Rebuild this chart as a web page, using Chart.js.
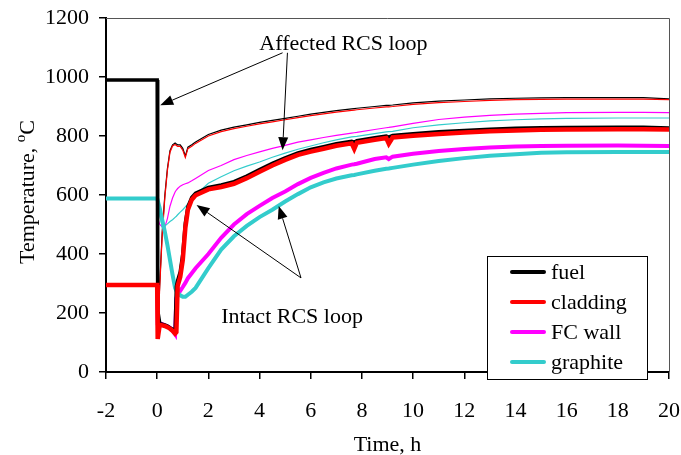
<!DOCTYPE html>
<html>
<head>
<meta charset="utf-8">
<script src="https://cdn.jsdelivr.net/npm/chart.js@4.4.1/dist/chart.umd.min.js"></script>
<style>
  html, body { margin: 0; padding: 0; background: #fff; }
  canvas { display: block; }
</style>
</head>
<body>
<canvas id="tempChart" width="681" height="455"></canvas>
<script>
// sample times, h (shared by all curves)
const timeH = [-2, 0, 0.02, 0.1, 0.2, 0.3, 0.4, 0.5, 0.6, 0.7, 0.75, 0.8, 0.9, 1.0, 1.1, 1.2, 1.35, 1.5,
  2, 2.5, 3, 3.5, 4, 4.5, 5, 5.5, 6, 6.5, 7, 7.6, 7.7, 7.8, 8.5, 8.95, 9.05, 9.2,
  10, 11, 12, 13, 14, 15, 16, 18, 19, 20];

// intact RCS loop (thick lines)
const fuelIntact = [990, 990, 210, 165, 162, 160, 156, 150, 145, 138, 290, 310, 340, 400, 505, 560, 592, 606,
  626, 634, 645, 664, 686, 707, 726, 743, 754, 764, 774, 782, 779, 784, 794, 800, 796, 802,
  808, 814, 819, 823, 826, 828, 829, 830, 830, 827];
const claddingIntact = [295, 295, 112, 160, 158, 156, 152, 147, 140, 130, 135, 292, 322, 380, 488, 550, 584, 599,
  619, 627, 638, 657, 679, 700, 719, 736, 747, 757, 767, 775, 756, 777, 787, 793, 774, 795,
  801, 807, 812, 816, 819, 821, 822, 823, 823, 822];
const fcWallIntact = [295, 295, 165, 165, 162, 158, 155, 150, 140, 128, 250, 262, 275, 288, 302, 318, 335, 352,
  400, 455, 500, 535, 563, 590, 612, 637, 658, 675, 690, 703, 704, 706, 722, 728, 722, 730,
  740, 749, 756, 761, 764, 766, 767, 768, 767, 766];
const graphiteIntact = [588, 588, 588, 555, 515, 475, 430, 380, 330, 285, 275, 268, 260, 255, 255, 262, 272, 285,
  352, 415, 460, 495, 525, 550, 578, 603, 626, 643, 656, 667, 668, 670, 682, 689, 690, 692,
  703, 715, 725, 733, 738, 743, 745, 746, 746, 746];

// affected RCS loop (thin lines)
const fuelAffected = [990, 990, 130, 300, 480, 600, 690, 750, 770, 776, 773, 770, 770, 758, 732, 762, 770, 780,
  805, 820, 830, 838, 846, 853, 860, 867, 874, 880, 886, 892, 893, 894, 900, 904, 904, 905,
  912, 918, 922, 926, 928, 929, 930, 930, 930, 926];
const claddingAffected = [295, 295, 112, 290, 470, 592, 684, 745, 766, 771, 768, 765, 765, 752, 727, 757, 765, 775,
  800, 815, 825, 833, 841, 848, 855, 862, 869, 875, 881, 887, 888, 889, 895, 899, 899, 900,
  907, 913, 917, 921, 923, 924, 925, 925, 925, 923];
const fcWallAffected = [295, 295, 520, 500, 492, 492, 520, 562, 590, 610, 617, 622, 630, 635, 638, 641, 648, 656,
  683, 700, 720, 734, 746, 758, 768, 779, 787, 795, 802, 810, 811, 812, 822, 828, 829, 831,
  843, 856, 864, 870, 874, 877, 879, 880, 880, 879];
const graphiteAffected = [588, 588, 585, 530, 492, 495, 502, 510, 516, 524, 528, 533, 542, 550, 560, 570, 588, 600,
  640, 662, 682, 698, 712, 728, 742, 755, 766, 777, 787, 797, 798, 799, 808, 814, 815, 816,
  828, 838, 845, 851, 855, 858, 860, 861, 861, 861];

const legendLabels = ["fuel", "cladding", "FC wall", "graphite"];
const legendColors = ["#000000", "#ff0000", "#ff00ff", "#33cccc"];

// labels with arrows, in data units (h, °C)
const notes = [
  { text: "Affected RCS loop", x: 7.28, y: 1092 },
  { text: "Intact RCS loop", x: 5.27, y: 166 }
];
const arrows = [
  { from: [4.90, 1082], to: [0.12, 904] },
  { from: [5.09, 1082], to: [4.90, 752] },
  { from: [5.62, 319], to: [1.54, 566] },
  { from: [5.62, 319], to: [4.75, 563] }
];

const serif = '"Liberation Serif", "Times New Roman", serif';

function series(values) {
  return values.map((v, i) => ({ x: timeH[i], y: v }));
}

function line(label, values, color, width) {
  return {
    label: label,
    data: series(values),
    borderColor: color,
    borderWidth: width,
    pointRadius: 0,
    tension: 0,
    fill: false
  };
}

// gray frame on top and right of the plot
const framePlugin = {
  id: "frame",
  beforeDatasetsDraw(chart) {
    const { ctx, chartArea: a } = chart;
    ctx.save();
    ctx.strokeStyle = "#555";
    ctx.lineWidth = 1;
    ctx.beginPath();
    ctx.moveTo(a.left, a.top + 0.5);
    ctx.lineTo(a.right + 0.5, a.top + 0.5);
    ctx.lineTo(a.right + 0.5, a.bottom);
    ctx.stroke();
    ctx.restore();
  }
};

// text labels and arrows
const notesPlugin = {
  id: "notes",
  afterDatasetsDraw(chart) {
    const { ctx, scales: { x, y } } = chart;
    ctx.save();
    ctx.fillStyle = "#000";
    ctx.strokeStyle = "#000";
    ctx.font = "22px " + serif;
    ctx.textAlign = "center";
    ctx.textBaseline = "alphabetic";
    notes.forEach(n => ctx.fillText(n.text, x.getPixelForValue(n.x), y.getPixelForValue(n.y)));

    arrows.forEach(a => {
      const x1 = x.getPixelForValue(a.from[0]), y1 = y.getPixelForValue(a.from[1]);
      const x2 = x.getPixelForValue(a.to[0]), y2 = y.getPixelForValue(a.to[1]);
      const ang = Math.atan2(y2 - y1, x2 - x1);
      const len = 13, half = 5;
      ctx.lineWidth = 1;
      ctx.beginPath();
      ctx.moveTo(x1, y1);
      ctx.lineTo(x2 - Math.cos(ang) * len, y2 - Math.sin(ang) * len);
      ctx.stroke();
      ctx.beginPath();
      ctx.moveTo(x2, y2);
      ctx.lineTo(x2 - Math.cos(ang) * len - Math.sin(ang) * half, y2 - Math.sin(ang) * len + Math.cos(ang) * half);
      ctx.lineTo(x2 - Math.cos(ang) * len + Math.sin(ang) * half, y2 - Math.sin(ang) * len - Math.cos(ang) * half);
      ctx.closePath();
      ctx.fill();
    });
    ctx.restore();
  }
};

// boxed legend in the lower right corner
const legendPlugin = {
  id: "boxLegend",
  afterDraw(chart) {
    const { ctx, chartArea: a } = chart;
    const left = Math.round(a.right - 182), top = Math.round(a.bottom - 116);
    ctx.save();
    ctx.fillStyle = "#fff";
    ctx.fillRect(left, top, 160, 123);
    ctx.strokeStyle = "#000";
    ctx.lineWidth = 1;
    ctx.strokeRect(left + 0.5, top + 0.5, 160, 123);
    ctx.font = "22px " + serif;
    ctx.textBaseline = "middle";
    ctx.lineCap = "round";
    legendLabels.forEach((label, i) => {
      const ly = top + 16 + i * 30;
      ctx.strokeStyle = legendColors[i];
      ctx.lineWidth = 4;
      ctx.beginPath();
      ctx.moveTo(left + 25, ly);
      ctx.lineTo(left + 57, ly);
      ctx.stroke();
      ctx.fillStyle = "#000";
      ctx.fillText(label, left + 64, ly + 1);
    });
    ctx.restore();
  }
};

// y axis title with superscript o
const yTitlePlugin = {
  id: "yTitle",
  afterDraw(chart) {
    const { ctx, chartArea: a } = chart;
    const main = "Temperature, ", sup = "o", unit = "C";
    ctx.save();
    ctx.translate(34, (a.top + a.bottom) / 2 - 3);
    ctx.rotate(-Math.PI / 2);
    ctx.fillStyle = "#000";
    ctx.textBaseline = "alphabetic";
    ctx.font = "22px " + serif;
    const wMain = ctx.measureText(main).width;
    const wUnit = ctx.measureText(unit).width;
    ctx.font = "15px " + serif;
    const wSup = ctx.measureText(sup).width;
    let px = -(wMain + wSup + wUnit) / 2;
    ctx.font = "22px " + serif;
    ctx.fillText(main, px, 0);
    px += wMain;
    ctx.font = "15px " + serif;
    ctx.fillText(sup, px, -9);
    px += wSup;
    ctx.font = "22px " + serif;
    ctx.fillText(unit, px, 0);
    ctx.restore();
  }
};

const ctx = document.getElementById("tempChart").getContext("2d");

new Chart(ctx, {
  type: "line",
  data: {
    datasets: [
      line("cladding", claddingIntact, "#ff0000", 4.5),
      line("fuel", fuelIntact, "#000000", 3.5),
      line("graphite", graphiteIntact, "#33cccc", 4),
      line("FC wall", fcWallIntact, "#ff00ff", 4),
      line("cladding (affected)", claddingAffected, "#ff0000", 1.2),
      line("fuel (affected)", fuelAffected, "#000000", 1.2),
      line("graphite (affected)", graphiteAffected, "#33cccc", 1.2),
      line("FC wall (affected)", fcWallAffected, "#ff00ff", 1.2)
    ]
  },
  options: {
    responsive: false,
    animation: false,
    layout: {
      padding: { top: 18, right: 12, left: 0, bottom: 0 }
    },
    plugins: {
      legend: { display: false },
      tooltip: { enabled: false }
    },
    scales: {
      x: {
        type: "linear",
        min: -2,
        max: 20,
        afterFit: (scale) => {
          scale.height = 83;
          scale.paddingLeft = 0;
          scale.paddingRight = 0;
        },
        ticks: {
          stepSize: 2,
          color: "#000",
          padding: 19,
          font: { family: serif, size: 22 },
          callback: (v) => String(v)
        },
        grid: { drawOnChartArea: false, tickLength: 7, color: "#000", lineWidth: 1.5 },
        border: { color: "#000", width: 2 },
        title: {
          display: true,
          text: "Time, h",
          color: "#000",
          font: { family: serif, size: 22 },
          padding: { top: 0, bottom: -3 }
        }
      },
      y: {
        min: 0,
        max: 1200,
        afterFit: (scale) => {
          scale.width = 106;
          scale.paddingTop = 0;
          scale.paddingBottom = 0;
        },
        ticks: {
          stepSize: 200,
          color: "#000",
          padding: 10,
          font: { family: serif, size: 22 },
          callback: (v) => String(v)
        },
        grid: { drawOnChartArea: false, tickLength: 7, color: "#000", lineWidth: 1.5 },
        border: { color: "#000", width: 2 }
      }
    }
  },
  plugins: [framePlugin, notesPlugin, legendPlugin, yTitlePlugin]
});
</script>
</body>
</html>
